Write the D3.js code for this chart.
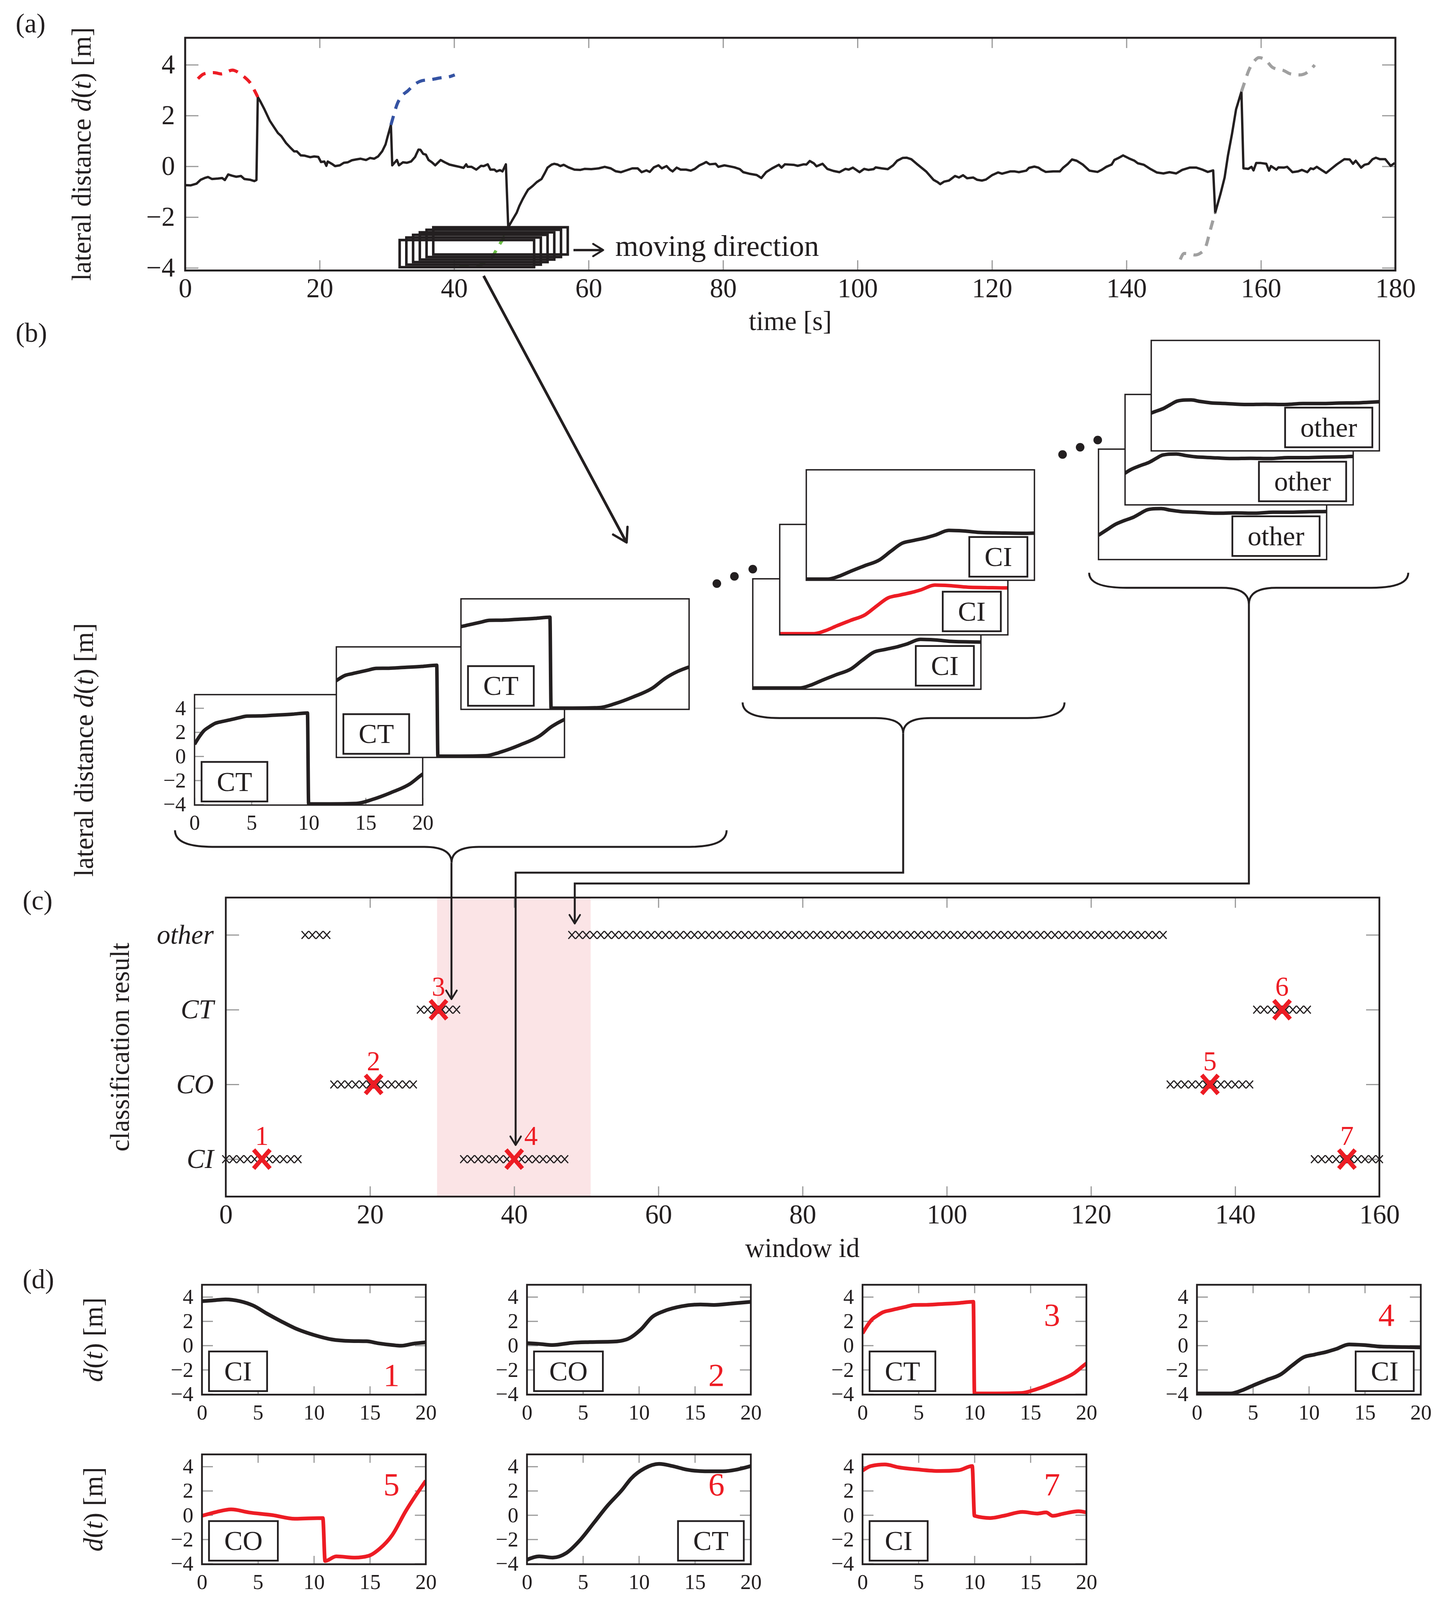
<!DOCTYPE html>
<html>
<head>
<meta charset="utf-8">
<script src="https://cdn.jsdelivr.net/npm/d3@7"></script>
<style>
html, body { margin: 0; background: #fff; overflow: hidden; }
svg { display: block; }
svg * { vector-effect: non-scaling-stroke; }
</style>
</head>
<body>
<svg id="fig"></svg>
<script>
// ---- data: panel (a), full drive [t (s), d (m)] ----
const mainTrace = [
[0,-0.74],[0.8,-0.75],[1.7,-0.68],[2.3,-0.53],[2.9,-0.46],[3.4,-0.42],[4.0,-0.50],[4.9,-0.48],[5.5,-0.46],[5.9,-0.54],
[6.4,-0.32],[7.0,-0.37],[7.6,-0.41],[8.3,-0.38],[8.8,-0.50],[9.7,-0.53],[10.3,-0.58],[10.6,-0.54],[10.8,2.73],[11.2,2.55],
[11.8,2.24],[12.6,1.79],[13.2,1.55],[13.8,1.31],[14.3,1.19],[15.0,0.92],[15.6,0.75],[16.2,0.59],[16.6,0.59],[17.2,0.43],
[17.8,0.42],[18.6,0.36],[19.2,0.39],[19.8,0.37],[20.2,0.17],[20.7,0.19],[21.0,0.02],[21.2,0.19],[21.8,0.10],[22.3,0.01],
[23.0,0.04],[23.6,0.14],[24.2,0.16],[24.8,0.24],[25.4,0.27],[26.1,0.30],[26.9,0.25],[27.5,0.33],[28.1,0.30],[28.7,0.39],
[29.3,0.59],[29.8,0.86],[30.1,1.16],[30.6,1.63],[30.8,0.04],[31.1,0.13],[31.5,0.25],[31.8,0.04],[32.4,0.16],[33.0,0.14],
[33.6,0.19],[34.2,0.37],[34.4,0.49],[34.7,0.66],[35.0,0.65],[35.4,0.49],[35.8,0.46],[36.2,0.25],[36.7,0.16],[37.2,0.04],
[38.0,0.25],[38.6,0.16],[39.3,0.07],[40.1,0.02],[40.8,-0.02],[41.4,-0.06],[41.8,0.08],[42.0,-0.02],[42.6,-0.02],[43.3,-0.13],
[44.0,0.02],[44.4,0.01],[45.0,0.08],[45.4,-0.13],[46.0,-0.13],[46.3,-0.20],[46.8,-0.15],[47.2,-0.20],[47.7,0.08],[48.05,-2.40],
[48.7,-2.10],[49.3,-1.83],[49.7,-1.56],[50.2,-1.29],[50.6,-1.10],[51.0,-0.92],[51.7,-0.77],[52.3,-0.62],[53.0,-0.50],[53.5,-0.26],
[53.9,-0.05],[54.5,0.07],[54.9,0.10],[55.4,0.07],[55.8,0.01],[56.3,0.06],[57.0,-0.04],[57.9,-0.13],[58.8,-0.14],[59.4,-0.10],
[60.4,-0.11],[61.5,-0.08],[62.4,-0.02],[63.3,-0.08],[64.0,-0.19],[64.8,-0.23],[65.6,-0.16],[66.5,-0.08],[67.3,-0.08],[67.9,-0.23],
[68.6,-0.16],[69.1,-0.22],[69.7,-0.04],[70.4,0.04],[70.9,-0.08],[71.6,0.01],[72.1,-0.13],[72.5,-0.20],[73.1,-0.05],[73.7,-0.13],
[74.5,-0.13],[75.2,-0.17],[75.8,-0.10],[76.5,0.04],[77.0,0.10],[77.5,0.17],[78.0,0.08],[78.9,0.10],[79.3,-0.02],[80.2,0.04],
[81.0,0.00],[81.7,-0.04],[82.5,-0.11],[83.0,-0.23],[83.9,-0.29],[85.0,-0.34],[85.7,-0.46],[86.4,-0.23],[87.3,-0.08],[88.3,0.06],
[88.7,-0.05],[89.2,0.08],[90.5,0.06],[91.1,0.02],[92.0,0.08],[92.4,0.07],[92.9,0.21],[93.5,0.12],[93.9,0.00],[94.8,0.10],
[95.5,-0.10],[96.4,-0.18],[97.3,-0.23],[98.2,-0.10],[98.7,-0.13],[99.3,-0.05],[100.3,-0.23],[101.0,-0.10],[101.6,-0.14],[102.4,-0.11],
[102.7,-0.04],[103.6,-0.08],[104.5,-0.11],[105.3,0.04],[105.9,0.22],[106.7,0.33],[107.3,0.34],[108.0,0.28],[108.8,0.10],[109.5,-0.05],
[110.2,-0.20],[110.8,-0.38],[111.3,-0.53],[111.9,-0.62],[112.3,-0.70],[112.9,-0.60],[113.6,-0.56],[114.5,-0.38],[115.1,-0.44],[115.7,-0.35],
[116.3,-0.47],[117.2,-0.44],[117.8,-0.53],[118.5,-0.56],[119.1,-0.52],[120.0,-0.35],[120.9,-0.24],[121.5,-0.29],[122.7,-0.20],[123.4,-0.20],
[124.0,-0.23],[125.1,-0.17],[125.5,-0.06],[126.3,-0.01],[126.9,-0.05],[127.4,-0.14],[128.0,-0.22],[129.1,-0.20],[130.1,-0.20],[130.6,-0.05],
[131.3,0.10],[131.9,0.27],[132.6,0.22],[133.5,0.07],[134.5,-0.17],[135.7,-0.22],[136.3,-0.14],[137.0,-0.02],[137.8,0.07],[138.2,0.25],
[138.9,0.34],[139.5,0.43],[140.4,0.31],[141.2,0.22],[141.7,0.12],[142.6,0.06],[143.6,-0.11],[144.5,-0.24],[145.5,-0.28],[146.4,-0.23],
[147.4,-0.28],[148.3,-0.14],[149.4,-0.05],[150.4,-0.05],[151.3,-0.13],[152.1,-0.22],[152.9,-0.16],[153.2,-1.83],[154.0,-1.07],[154.6,-0.44],
[155.1,0.43],[155.7,1.28],[156.3,2.24],[157.1,2.94],[157.4,-0.08],[158.1,-0.10],[158.6,-0.02],[158.9,-0.16],[159.3,0.13],[160.0,0.13],
[160.8,0.10],[161.2,-0.17],[161.5,0.01],[162.3,-0.13],[162.6,-0.04],[163.4,-0.05],[163.9,-0.02],[164.7,-0.23],[165.5,-0.20],[166.1,-0.14],
[166.9,-0.23],[167.4,-0.08],[167.8,-0.11],[168.3,-0.02],[169.0,-0.14],[169.7,-0.26],[170.4,-0.11],[171.3,0.08],[172.4,0.28],[173.2,0.27],
[173.7,0.10],[174.1,0.22],[174.9,-0.05],[175.4,0.06],[176.0,0.10],[176.6,0.28],[177.1,0.34],[177.7,0.28],[178.5,0.28],[179.3,0.02],[179.9,0.13]
];
// unwrapped continuations (dashed)
const redDash = [[1.9,3.45],[2.7,3.63],[3.5,3.68],[4.3,3.69],[5.4,3.64],[6.2,3.72],[7.0,3.79],[7.9,3.70],[8.5,3.58],[9.1,3.45],[9.8,3.24],[10.4,2.94],[10.8,2.73]];
const blueDash = [[30.6,1.63],[31.0,2.0],[31.5,2.43],[32.1,2.73],[33.1,2.97],[34.2,3.24],[35.2,3.37],[36.7,3.42],[37.9,3.48],[39.3,3.53],[40.1,3.60]];
const greenDash = [[40.8,-3.95],[42.5,-3.93],[43.9,-3.88],[45.5,-3.62],[46.7,-3.10],[47.5,-2.75],[48.05,-2.40]];
const greyDashLow = [[148.0,-3.67],[148.6,-3.43],[149.4,-3.45],[150.2,-3.49],[151.1,-3.40],[151.8,-3.16],[152.4,-2.58],[152.9,-2.10],[153.2,-1.83]];
const greyDashHigh = [[157.1,2.94],[157.6,3.33],[158.2,3.78],[159.0,4.14],[159.7,4.28],[160.6,4.21],[161.7,3.90],[162.5,3.82],[163.3,3.78],[164.4,3.64],[165.8,3.60],[166.9,3.70],[168.0,3.99]];
// sliding windows sketched in (a)
const stackStart = [31.9, 32.9, 33.9, 34.9, 35.9, 36.9];
const stackLow = [-3.97, -3.87, -3.77, -3.67, -3.57, -3.47];
const stackHigh = [-2.90, -2.80, -2.70, -2.60, -2.50, -2.40];
const windowLen = 20;

// ---- data: 20 s windows [t in window, d] ----
const ctTrace = [[0,1.0],[0.4,1.6],[0.8,2.1],[1.3,2.45],[1.8,2.73],[2.5,2.9],[3.2,3.05],[3.9,3.2],[4.6,3.34],[5.7,3.35],[6.9,3.41],[8.6,3.5],[9.9,3.6],[10.0,-3.95],[11.9,-3.95],[14.2,-3.91],[15.6,-3.58],[17.2,-3.02],[18.9,-2.28],[20,-1.48],[21.1,-0.9],[22.2,-0.5]];
const ciTrace = [[-1.2,-3.95],[0,-3.95],[3.0,-3.95],[4.0,-3.7],[5.0,-3.3],[6.2,-2.85],[7.5,-2.37],[8.5,-1.65],[9.5,-0.98],[10.5,-0.75],[11.6,-0.52],[12.4,-0.3],[13.6,0.09],[14.9,0.04],[16.5,-0.09],[18.0,-0.12],[20,-0.15],[21.2,-0.13]];
const otherTrace = [[0,-2.03],[0.7,-1.6],[1.5,-1.12],[2.3,-0.8],[3.1,-0.52],[3.7,-0.2],[4.3,0.09],[5.0,0.17],[5.5,0.18],[6.3,0.05],[7.2,-0.06],[8.5,-0.12],[10.4,-0.2],[12,-0.18],[13.7,-0.2],[15.3,-0.12],[16.9,-0.12],[18.5,-0.08],[20,-0.06],[21,-0.02],[22,0.03]];
const ctShift = [0, 1.1, 2.1];
const ciShift = [-1.1, 0, 1.1];
const otherShift = [0, 1, 2];

const win1 = [[0,3.65],[0.9,3.71],[2.1,3.8],[3.4,3.65],[4.6,3.28],[5.8,2.63],[7.1,1.98],[8.3,1.43],[10.0,0.87],[11.6,0.5],[13.3,0.37],[14.7,0.35],[15.7,0.19],[17.0,0.04],[17.8,-0.02],[19.0,0.17],[20,0.26]];
const win2 = [[0,0.19],[1.1,0.13],[2.3,0.04],[4.0,0.22],[5.6,0.28],[7.7,0.32],[8.9,0.5],[10.2,1.34],[11.2,2.36],[12.2,2.82],[13.8,3.23],[15.5,3.38],[16.7,3.34],[18.4,3.47],[20,3.6]];
const win5 = [[0,-0.06],[1.3,0.26],[2.6,0.47],[4.2,0.22],[6.3,0.0],[8.3,-0.3],[10.8,-0.24],[11.0,-3.78],[12.0,-3.4],[13.7,-3.5],[14.9,-3.35],[15.9,-2.75],[17.0,-1.64],[18.2,0.32],[20,2.83]];
const win6 = [[0,-3.68],[1.1,-3.4],[2.3,-3.5],[3.5,-3.13],[4.8,-2.0],[6.0,-0.61],[7.2,0.78],[8.5,2.08],[9.3,3.01],[10.5,3.85],[11.8,4.22],[13.0,4.04],[14.2,3.76],[15.9,3.61],[17.5,3.61],[18.8,3.76],[20,4.04]];
const win7 = [[0,3.66],[0.74,4.04],[2.0,4.17],[3.2,3.94],[4.9,3.76],[6.9,3.63],[8.6,3.7],[9.8,4.04],[10.0,-0.06],[11.4,-0.24],[12.6,-0.06],[14.3,0.26],[15.6,0.13],[16.4,0.22],[17.0,-0.06],[18.0,0.13],[19.3,0.32],[20,0.22]];

// ---- data: panel (c) classification ----
const classNames = ["CI", "CO", "CT", "other"];
const runFirst = [0, 11, 15, 27, 33, 48, 131, 143, 151];
const runLast  = [10, 14, 26, 32, 47, 130, 142, 150, 160];
const runClass = ["CI", "other", "CO", "CT", "CI", "other", "CO", "CT", "CI"];
const pickWindow = [5, 20.5, 29.5, 40, 136.5, 146.5, 155.5];
const pickClass = ["CI", "CO", "CT", "CI", "CO", "CT", "CI"];
const bandWindows = [29.3, 50.6];
const arrowWindow = [31.3, 40.2, 48.4];
const arrowClass = ["CT", "CI", "other"];

// ---- data: panel (d) ----
const dTraces = [win1, win2, ctTrace, ciTrace, win5, win6, win7];
const dLabels = ["CI", "CO", "CT", "CI", "CO", "CT", "CI"];
const dRed = [false, false, true, false, true, false, true];

// ---- style ----
const INK = "#231f20", RED = "#ed1c24", BLUE = "#3553a3", GREEN = "#6abd45", GREY = "#a0a0a0", TICK = "#9a9a9a";
const FONT = "'Liberation Serif', 'DejaVu Serif', serif";
const FS = 78;

// the figure is laid out on a 3699 x 5330 sheet and fitted to the window
const W = 3699, H = 5330;
const SY = Math.min(1, window.innerHeight / H);
const TS = SY < 1 ? 0.5 + 0.5 * SY : 1;      // text scale, kept undistorted
const TS_SMALL = Math.min(TS, 0.7);           // tick labels of the small window plots

const svg = d3.select("#fig")
  .attr("width", W).attr("height", Math.round(H * SY))
  .attr("viewBox", `0 0 ${W} ${H}`).attr("preserveAspectRatio", "none");
svg.append("rect").attr("width", W).attr("height", H).attr("fill", "#fff");

function place(sel, x, y, rot, s = TS) {
  return sel.attr("transform", `translate(${x},${y}) scale(${s},${s / SY})` + (rot ? ` rotate(${rot})` : ""));
}

function addAxes(g, x, y, o) {
  const [y0, y1] = y.range(), [x0, x1] = x.range();
  const fmt = d3.format("d");
  const none = () => "";
  const s = o.ts || TS;
  const parts = [
    [d3.axisBottom(x).tickValues(o.xt).tickFormat(o.xNoLab ? none : fmt).tickPadding(o.xPad || 26), `translate(0,${y0})`],
    [d3.axisLeft(y).tickValues(o.yt).tickFormat(o.yFmt || fmt).tickPadding(o.yPad || 26), `translate(${x0},0)`]
  ];
  if (o.all) {
    parts.push([d3.axisTop(x).tickValues(o.xt).tickFormat(none), `translate(0,${y1})`]);
    parts.push([d3.axisRight(y).tickValues(o.yt).tickFormat(none), `translate(${x1},0)`]);
  }
  const out = [];
  parts.forEach(([ax, tr]) => {
    const a = g.append("g").attr("transform", tr).call(ax.tickSizeInner(-o.len).tickSizeOuter(0));
    a.attr("font-family", FONT).attr("font-size", FS);
    a.select(".domain").remove();
    a.selectAll(".tick line").attr("stroke", TICK).attr("stroke-width", 3);
    a.selectAll(".tick text").attr("fill", INK).each(function () {
      const t = d3.select(this);
      const tx = +t.attr("x") || 0, ty = +t.attr("y") || 0;
      place(t.attr("x", null).attr("y", null), tx, ty, 0, s);
    });
    out.push(a);
  });
  return out;
}

function frameRect(g, x, y, w) {
  const [x0, x1] = x.range(), [y0, y1] = y.range();
  g.append("rect").attr("x", x0).attr("y", y1).attr("width", x1 - x0).attr("height", y0 - y1)
    .attr("fill", "none").attr("stroke", INK).attr("stroke-width", w);
}

function richText(g, x, y, parts, o = {}) {
  const t = g.append("text")
    .attr("text-anchor", o.anchor || "middle").attr("font-family", FONT)
    .attr("font-size", o.size || FS).attr("fill", o.fill || INK);
  parts.forEach(([s, it]) => t.append("tspan").text(s).attr("font-style", it ? "italic" : null));
  return place(t, x, y, o.rot);
}

// arrow tip drawn undistorted on screen
function arrowHead(g, x, y, ang, len, w) {
  const pt = a => [x + len * Math.cos(a), y + len * Math.sin(a) / SY];
  const p1 = pt(ang + Math.PI - 0.55), p2 = pt(ang + Math.PI + 0.55);
  g.append("path").attr("d", `M${p1}L${x},${y}L${p2}`)
    .attr("fill", "none").attr("stroke", INK).attr("stroke-width", w)
    .attr("stroke-linecap", "round").attr("stroke-linejoin", "round");
}
const screenAngle = (x1, y1, x2, y2) => Math.atan2((y2 - y1) * SY, x2 - x1);

function labelBox(g, text, xEdge, bottom, side) {
  const bg = g.append("g");
  const r = bg.append("rect");
  const t = bg.append("text").text(text).attr("font-family", FONT).attr("font-size", 80).attr("fill", INK).attr("text-anchor", "middle");
  const tw = t.node().getComputedTextLength() * TS;
  const bw = tw + 78, bh = 132;
  const bx = side === "left" ? xEdge : xEdge - bw;
  const by = bottom - bh;
  r.attr("x", bx).attr("y", by).attr("width", bw).attr("height", bh)
    .attr("fill", "#fff").attr("stroke", INK).attr("stroke-width", 4.5);
  place(t, bx + bw / 2, by + bh / 2 + 26.5 * TS / SY);
}

let clipCount = 0;
function miniPlot(parent, left, top, w, h, o) {
  const g = parent.append("g");
  const x = d3.scaleLinear().domain([0, 20]).range([left, left + w]);
  const y = d3.scaleLinear().domain(o.yDom).range([top + h, top]);
  g.append("rect").attr("x", left).attr("y", top).attr("width", w).attr("height", h).attr("fill", "#fff");
  if (o.axes) addAxes(g, x, y, { xt: [0, 5, 10, 15, 20], yt: [-4, -2, 0, 2, 4], len: o.tickLen, all: o.axesAll, ts: TS_SMALL, xPad: 32, yPad: 22 });
  const id = "clip" + (clipCount++);
  g.append("clipPath").attr("id", id).append("rect").attr("x", left).attr("y", top).attr("width", w).attr("height", h);
  const shift = o.shift || 0;
  g.append("path").datum(o.trace.map(d => [d[0] - shift, d[1]]))
    .attr("clip-path", `url(#${id})`).attr("fill", "none").attr("stroke", o.color).attr("stroke-width", o.lw)
    .attr("stroke-linejoin", "round")
    .attr("d", d3.line().x(d => x(d[0])).y(d => y(d[1])).curve(d3.curveMonotoneX));
  g.append("rect").attr("x", left).attr("y", top).attr("width", w).attr("height", h)
    .attr("fill", "none").attr("stroke", INK).attr("stroke-width", o.frameW);
  if (o.label) labelBox(g, o.label, o.boxSide === "left" ? left + 18 : left + w - 18, top + h - 12, o.boxSide);
  if (o.num) {
    place(g.append("text").text(o.num).attr("text-anchor", "middle").attr("font-family", FONT)
      .attr("font-size", 94).attr("fill", RED), left + w - 88, o.numHigh ? top + 136 : top + h - 29);
  }
  return g;
}

function brace(g, x0, x1, xt, yEnd, yMid, yTip) {
  const r = 95, rt = 70;
  g.append("path")
    .attr("d", `M${x0},${yEnd}Q${x0},${yMid} ${x0 + r},${yMid}L${xt - rt},${yMid}Q${xt},${yMid} ${xt},${yTip}` +
               `Q${xt},${yMid} ${xt + rt},${yMid}L${x1 - r},${yMid}Q${x1},${yMid} ${x1},${yEnd}`)
    .attr("fill", "none").attr("stroke", INK).attr("stroke-width", 5);
}

// ================= (a) =================
const ga = svg.append("g");
const ax = d3.scaleLinear().domain([0, 180]).range([474, 3572]);
const ay = d3.scaleLinear().domain([-4.1, 5.06]).range([901, 126]);
addAxes(ga, ax, ay, { xt: d3.range(0, 181, 20), yt: [-4, -2, 0, 2, 4], len: 34, all: true });

const lineA = d3.line().x(d => ax(d[0])).y(d => ay(d[1]));
ga.append("path").datum(mainTrace).attr("d", lineA).attr("fill", "none")
  .attr("stroke", INK).attr("stroke-width", 6).attr("stroke-linejoin", "round");
const smoothA = d3.line().x(d => ax(d[0])).y(d => ay(d[1])).curve(d3.curveMonotoneX);
[[redDash, RED], [blueDash, BLUE], [greenDash, GREEN], [greyDashLow, GREY], [greyDashHigh, GREY]].forEach(([data, col]) => {
  ga.append("path").datum(data).attr("d", smoothA).attr("fill", "none")
    .attr("stroke", col).attr("stroke-width", 8).attr("stroke-dasharray", "24 19");
});

stackStart.forEach((s, i) => {
  ga.append("rect").attr("x", ax(s)).attr("y", ay(stackHigh[i]))
    .attr("width", ax(s + windowLen) - ax(s)).attr("height", ay(stackLow[i]) - ay(stackHigh[i]))
    .attr("fill", "none").attr("stroke", INK).attr("stroke-width", 6.5);
});
ga.append("line").attr("x1", 1468).attr("x2", 1542).attr("y1", 833).attr("y2", 833).attr("stroke", INK).attr("stroke-width", 6);
arrowHead(ga, 1544, 833, 0, 30, 5);
place(ga.append("text").text("moving direction").attr("font-family", FONT).attr("font-size", 86).attr("fill", INK), 1575, 852);

frameRect(ga, ax, ay, 5);
richText(ga, 232, 513, [["lateral distance "], ["d", true], ["("], ["t", true], [") [m]"]], { rot: -90 });
richText(ga, 2023, 1100, [["time [s]"]]);
richText(ga, 40, 108, [["(a)"]], { anchor: "start" });

// big arrow from (a) to (b)
ga.append("line").attr("x1", 1238).attr("y1", 919).attr("x2", 1602).attr("y2", 1803)
  .attr("stroke", INK).attr("stroke-width", 7);
arrowHead(ga, 1604, 1807, screenAngle(1238, 919, 1604, 1807), 40, 6);

// ================= (b) =================
const gb = svg.append("g");
richText(gb, 40, 1138, [["(b)"]], { anchor: "start" });
richText(gb, 238, 2498, [["lateral distance "], ["d", true], ["("], ["t", true], [") [m]"]], { rot: -90 });

const bW = 584, bH = 368;
const g1Pos = [[498, 2314], [861, 2155], [1180, 1995]];
const g2Pos = [[1927, 1928], [1996, 1747], [2064, 1565]];
const g3Pos = [[2812, 1496], [2880, 1314], [2947, 1134]];

g1Pos.forEach((p, i) => miniPlot(gb, p[0], p[1], bW, bH, {
  yDom: [-4.05, 5.12], trace: ctTrace, shift: ctShift[i], color: INK, lw: 9, frameW: 3.5,
  axes: i === 0, tickLen: 24, label: "CT", boxSide: "left"
}));
g2Pos.forEach((p, i) => miniPlot(gb, p[0], p[1], bW, bH, {
  yDom: [-4.05, 5.12], trace: ciTrace, shift: ciShift[i], color: i === 1 ? RED : INK, lw: 9, frameW: 3.5,
  label: "CI", boxSide: "right"
}));
g3Pos.forEach((p, i) => miniPlot(gb, p[0], p[1], bW, bH, {
  yDom: [-4.05, 5.12], trace: otherTrace, shift: otherShift[i], color: INK, lw: 9, frameW: 3.5,
  label: "other", boxSide: "right"
}));

[[1835, 1944], [1880, 1920], [1927, 1896], [2720, 1514], [2765, 1490], [2810, 1466]].forEach(p =>
  gb.append("ellipse").attr("cx", p[0]).attr("cy", p[1]).attr("rx", 11).attr("ry", 11 / SY).attr("fill", INK));

brace(gb, 448, 1860, 1156, 2766, 2821, 2874);
brace(gb, 1901, 2725, 2312, 2340, 2392, 2443);
brace(gb, 2788, 3605, 3197, 1908, 1958, 2013);

// ================= (c) =================
const gc = svg.append("g");
const cx = d3.scaleLinear().domain([0, 160]).range([578, 3531]);
const cy = d3.scaleLinear().domain([-0.5, 3.5]).range([3986, 2990]);
const cyc = c => cy(classNames.indexOf(c));

gc.append("rect").attr("x", cx(bandWindows[0])).attr("y", cy(3.5))
  .attr("width", cx(bandWindows[1]) - cx(bandWindows[0])).attr("height", cy(-0.5) - cy(3.5)).attr("fill", "#fbe4e6");

const cAx = addAxes(gc, cx, cy, { xt: d3.range(0, 161, 20), yt: [0, 1, 2, 3], len: 34, all: true, yFmt: i => classNames[i], yPad: 31 });
cAx[1].selectAll(".tick text").attr("font-style", "italic");

const windows = runFirst.flatMap((f, i) => d3.range(f, runLast[i] + 1).map(w => ({ w, c: runClass[i] })));
gc.selectAll("path.win").data(windows).join("path").attr("class", "win")
  .attr("transform", d => `translate(${cx(d.w)},${cyc(d.c)}) scale(1,${1 / SY})`)
  .attr("d", "M-9,-10L9,10M-9,10L9,-10").attr("fill", "none").attr("stroke", INK).attr("stroke-width", 3);

gc.selectAll("path.pick").data(pickWindow).join("path").attr("class", "pick")
  .attr("transform", (d, i) => `translate(${cx(d)},${cyc(pickClass[i])}) scale(1,${1 / SY})`)
  .attr("d", "M-21,-24L21,24M-21,24L21,-24").attr("fill", "none").attr("stroke", RED).attr("stroke-width", 11);
gc.selectAll("text.pickNum").data(pickWindow).join("text").attr("class", "pickNum")
  .attr("text-anchor", "middle").attr("font-family", FONT).attr("font-size", FS).attr("fill", RED)
  .text((d, i) => i + 1)
  .each(function (d, i) { place(d3.select(this), cx(d) + (i === 3 ? 43 : 0), cyc(pickClass[i]) - 47); });

frameRect(gc, cx, cy, 4.5);
richText(gc, 330, 3488, [["classification result"]], { rot: -90 });
richText(gc, 2054, 4188, [["window id"]]);
richText(gc, 58, 3030, [["(c)"]], { anchor: "start" });

// connectors from (b) to (c)
const arrowGap = [35, 47, 38];
const ends = arrowWindow.map((w, i) => [cx(w), cyc(arrowClass[i]) - arrowGap[i]]);
const conn = [
  `M${ends[0][0]},2874V${ends[0][1]}`,
  `M2312,2443V2907H${ends[1][0]}V${ends[1][1]}`,
  `M3197,2013V2943H${ends[2][0]}V${ends[2][1]}`
];
conn.forEach(d => gc.append("path").attr("d", d).attr("fill", "none").attr("stroke", INK).attr("stroke-width", 5));
ends.forEach(e => arrowHead(gc, e[0], e[1], Math.PI / 2, 26, 4.5));

// ================= (d) =================
const gd = svg.append("g");
richText(gd, 58, 4292, [["(d)"]], { anchor: "start" });
const dLeft = [517, 1349, 2208, 3064, 517, 1349, 2208];
const dTop = [4280, 4280, 4280, 4280, 4845, 4845, 4845];
const dBoxSide = ["left", "left", "left", "right", "left", "right", "left"];
const dNumHigh = [false, false, true, true, true, true, true];
dTraces.forEach((tr, i) => miniPlot(gd, dLeft[i], dTop[i], 573, 366, {
  yDom: [-4.05, 5.0], trace: tr, color: dRed[i] ? RED : INK, lw: 9.5, frameW: 4.5,
  axes: true, axesAll: true, tickLen: 28, label: dLabels[i], boxSide: dBoxSide[i],
  num: String(i + 1), numHigh: dNumHigh[i]
}));
richText(gd, 262, 4463, [["d", true], ["("], ["t", true], [") [m]"]], { rot: -90 });
richText(gd, 262, 5028, [["d", true], ["("], ["t", true], [") [m]"]], { rot: -90 });
</script>
</body>
</html>
